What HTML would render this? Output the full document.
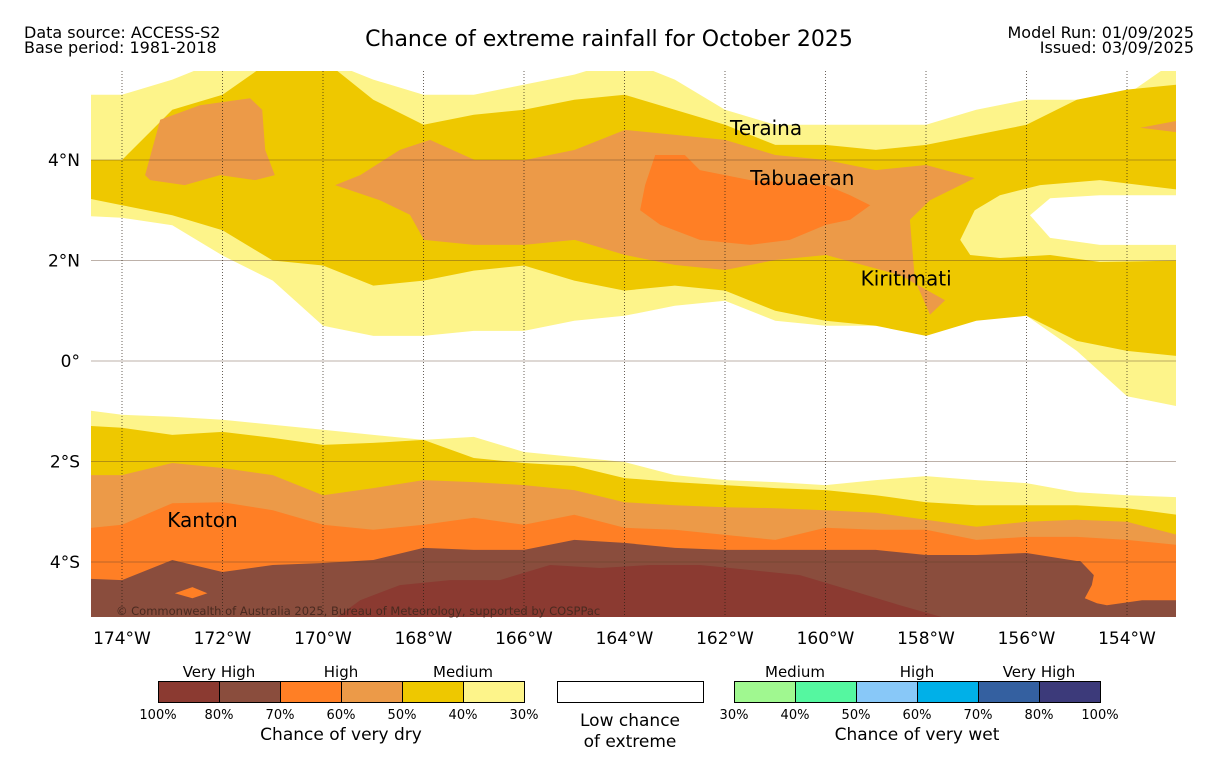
<!DOCTYPE html>
<html><head><meta charset="utf-8"><style>
body{margin:0;background:#fff;width:1219px;height:758px;overflow:hidden;font-family:"DejaVu Sans","Liberation Sans",sans-serif;}
svg{position:absolute;left:0;top:0}
</style></head><body>
<svg id="chart" width="1219" height="758" viewBox="0 0 1219 758">
<defs><clipPath id="mapclip"><rect x="91" y="71" width="1085" height="546"/></clipPath></defs>
<text x="24" y="38" font-size="16">Data source: ACCESS-S2</text>
<text x="24" y="53" font-size="16">Base period: 1981-2018</text>
<text x="609" y="46" font-size="22" text-anchor="middle">Chance of extreme rainfall for October 2025</text>
<text x="1194" y="38" font-size="16" text-anchor="end">Model Run: 01/09/2025</text>
<text x="1194" y="53" font-size="16" text-anchor="end">Issued: 03/09/2025</text>
<g id="map" clip-path="url(#mapclip)"></g>
<g id="overlay"></g>
<g id="axes"></g>
<g id="legend"></g>
</svg>
<script>
// axis geometry
const lonTicks=[-174,-172,-170,-168,-166,-164,-162,-160,-158,-156,-154];
const latTicks=[4,2,0,-2,-4];
const gridLons=[-175,-174,-173,-172,-171,-170,-169,-168,-167,-166,-165,-164,-163,-162,-161,-160,-159,-158,-157,-156,-155,-154,-153];
// north band boundaries (lat)
const n1Top=[5.3,5.3,5.6,6,6,6,5.6,5.3,5.3,5.5,5.7,6,5.6,5.0,4.7,4.7,4.7,4.7,5.0,5.2,5.2,5.3,6];
const n1Bot=[2.9,2.85,2.7,2.1,1.6,0.7,0.5,0.5,0.6,0.6,0.8,0.9,1.1,1.2,0.8,0.7,0.7,0.8,0.9,0.9,0.2,-0.7,-0.9];
const n2Top=[4.0,4.0,5.0,5.3,6,6,5.2,4.7,4.9,5.0,5.2,5.3,5.0,4.7,4.3,4.3,4.2,4.3,4.5,4.7,5.2,5.4,5.5];
const n2Bot=[3.3,3.1,2.9,2.6,2.0,1.9,1.5,1.6,1.8,1.9,1.6,1.4,1.5,1.4,1.0,0.8,0.7,0.5,0.8,0.9,0.4,0.2,0.1];
// south band tops (lat); each band extends to map bottom
const s1Top=[-0.94,-1.07,-1.11,-1.17,-1.27,-1.37,-1.47,-1.57,-1.51,-1.81,-1.91,-2.01,-2.27,-2.37,-2.41,-2.47,-2.37,-2.29,-2.37,-2.43,-2.61,-2.67,-2.71];
const s2Top=[-1.27,-1.33,-1.47,-1.41,-1.53,-1.67,-1.63,-1.57,-1.93,-2.03,-2.09,-2.33,-2.41,-2.47,-2.53,-2.57,-2.67,-2.81,-2.87,-2.87,-2.87,-2.93,-3.06];
const s3Top=[-2.27,-2.27,-2.03,-2.13,-2.27,-2.67,-2.53,-2.37,-2.41,-2.47,-2.57,-2.81,-2.87,-2.91,-2.93,-2.97,-3.02,-3.16,-3.30,-3.20,-3.16,-3.20,-3.46];
const s4Top=[-3.36,-3.26,-2.83,-2.81,-2.97,-3.26,-3.36,-3.26,-3.12,-3.26,-3.06,-3.32,-3.36,-3.46,-3.56,-3.32,-3.36,-3.36,-3.56,-3.50,-3.50,-3.56,-3.66];
const s5Top=[-4.32,-4.36,-3.96,-4.20,-4.06,-4.02,-3.96,-3.72,-3.76,-3.76,-3.56,-3.62,-3.72,-3.76,-3.76,-3.76,-3.76,-3.86,-3.86,-3.82,-3.98,-3.98,-3.98];
// irregular regions [lon,lat]
const holeRing=[[-157.32,2.41],[-157.03,3.0],[-156.53,3.3],[-155.73,3.5],[-154.54,3.6],[-152.9,3.4],[-152.9,2.0],[-154.54,1.97],[-155.53,2.11],[-156.53,2.05],[-157.12,2.11]];
const holeWhite=[[-155.93,2.9],[-155.53,3.24],[-154.54,3.3],[-152.9,3.3],[-152.9,2.31],[-154.54,2.31],[-155.53,2.45]];
const n3Left=[[-173.54,3.7],[-173.24,4.8],[-172.45,5.09],[-171.45,5.23],[-171.21,5.0],[-171.15,4.2],[-170.96,3.7],[-171.35,3.6],[-172.05,3.7],[-172.75,3.5],[-173.44,3.6]];
const n3Main=[[-169.76,3.5],[-169.26,3.7],[-168.47,4.2],[-167.87,4.4],[-166.98,4.0],[-165.98,4.0],[-164.99,4.2],[-163.99,4.6],[-162.99,4.5],[-162.0,4.4],[-161.0,4.1],[-159.99,4.0],[-159.0,3.8],[-158.0,3.9],[-157.03,3.64],[-157.92,3.2],[-158.32,2.81],[-158.22,1.61],[-157.92,0.92],[-157.62,1.21],[-158.52,1.71],[-159.99,2.11],[-161.0,2.01],[-162.0,1.81],[-162.99,1.91],[-163.99,2.11],[-164.99,2.41],[-166.0,2.31],[-167.0,2.31],[-167.99,2.41],[-168.27,2.91],[-168.87,3.2]];
const n3Wedge=[[-153.74,4.64],[-152.9,4.8],[-152.9,4.54]];
const n4=[[-163.39,4.1],[-162.8,4.1],[-162.5,3.8],[-161.5,3.6],[-159.99,3.5],[-159.51,3.3],[-159.11,3.1],[-159.51,2.81],[-159.99,2.71],[-160.71,2.41],[-161.5,2.31],[-162.5,2.41],[-163.29,2.71],[-163.69,3.0],[-163.59,3.5]];
const s6=[[-169.86,-5.2],[-169.26,-4.76],[-168.47,-4.46],[-167.47,-4.36],[-166.48,-4.36],[-165.48,-4.06],[-164.49,-4.12],[-163.49,-4.06],[-162.5,-4.06],[-161.5,-4.16],[-160.51,-4.26],[-159.51,-4.56],[-158.52,-4.86],[-157.32,-5.2]];
const notch=[[-154.93,-3.98],[-152.9,-3.98],[-152.9,-4.76],[-153.7,-4.76],[-154.4,-4.86],[-154.6,-4.82],[-154.84,-4.72],[-154.7,-4.46],[-154.66,-4.26]];
const blob=[[-172.95,-4.62],[-172.6,-4.5],[-172.3,-4.62],[-172.6,-4.72]];
const places=["Teraina","Tabuaeran","Kiritimati","Kanton"];
const placeLon=[-161.9,-161.5,-159.3,-173.1];
const placeLat=[4.5,3.5,1.5,-3.3];

const X=lon=>122+(lon+174)*50.25;
const Y=lat=>361-lat*50.25;
const C={dred:"#8B3A31",brown:"#8A4D3D",dorange:"#FF7F25",orange:"#EC9A48",gold:"#EEC800",lyel:"#FDF48A"};
const NS="http://www.w3.org/2000/svg";
const map=document.getElementById('map');
function poly(pts,fill,name,parent){
  const p=document.createElementNS(NS,'polygon');
  p.setAttribute('points',pts.map(q=>X(q[0]).toFixed(1)+','+Y(q[1]).toFixed(1)).join(' '));
  p.setAttribute('fill',fill);
  
  
  (parent||map).appendChild(p);
}
function band(top,bot,fill,name){
  const pts=gridLons.map((l,i)=>[l,top[i]]);
  for(let i=gridLons.length-1;i>=0;i--)pts.push([gridLons[i],bot?bot[i]:-6]);
  poly(pts,fill,name);
}
band(n1Top,n1Bot,C.lyel,'north-30-40-band');
band(n2Top,n2Bot,C.gold,'north-40-50-band');
poly(holeRing,C.lyel,'east-30-40-ring');
poly(holeWhite,'#ffffff','east-low-chance-area');
poly(n3Left,C.orange,'west-50-60-region');
poly(n3Main,C.orange,'central-50-60-region');
poly(n3Wedge,C.orange,'east-50-60-wedge');
poly(n4,C.dorange,'central-60-70-region');
band(s1Top,null,C.lyel,'south-30-40-band');
band(s2Top,null,C.gold,'south-40-50-band');
band(s3Top,null,C.orange,'south-50-60-band');
band(s4Top,null,C.dorange,'south-60-70-band');
band(s5Top,null,C.brown,'south-70-80-band');
poly(s6,C.dred,'south-80-100-region');
poly(notch,C.dorange,'southeast-60-70-notch');
poly(blob,C.dorange,'southwest-60-70-blob');

const ov=document.getElementById('overlay');
latTicks.forEach(l=>{
  const ln=document.createElementNS(NS,'line');
  ln.setAttribute('x1',91);ln.setAttribute('x2',1176);ln.setAttribute('y1',Y(l));ln.setAttribute('y2',Y(l));
  ln.setAttribute('stroke','rgba(90,60,40,0.4)');ln.setAttribute('stroke-width','1');
  
  
  ov.appendChild(ln);
});
lonTicks.forEach(l=>{
  const ln=document.createElementNS(NS,'line');
  ln.setAttribute('x1',X(l));ln.setAttribute('x2',X(l));ln.setAttribute('y1',71);ln.setAttribute('y2',617);
  ln.setAttribute('stroke','rgba(40,30,20,0.7)');ln.setAttribute('stroke-width','1');ln.setAttribute('stroke-dasharray','1,2');
  
  
  ov.appendChild(ln);
});
places.forEach((p,i)=>{
  const t=document.createElementNS(NS,'text');
  t.setAttribute('x',X(placeLon[i]));t.setAttribute('y',Y(placeLat[i]));
  t.setAttribute('font-size','20');t.textContent=p;
  
  
  ov.appendChild(t);
});
const cp=document.createElementNS(NS,'text');
cp.setAttribute('x',116);cp.setAttribute('y',615);cp.setAttribute('font-size','11.5');cp.setAttribute('fill','#4a2a20');
cp.textContent='© Commonwealth of Australia 2025, Bureau of Meteorology, supported by COSPPac';


ov.appendChild(cp);

const ax=document.getElementById('axes');
lonTicks.forEach(l=>{
  const t=document.createElementNS(NS,'text');
  t.setAttribute('x',X(l));t.setAttribute('y',644);t.setAttribute('font-size','17');t.setAttribute('text-anchor','middle');
  t.textContent=Math.abs(l)+'°W';
  
  
  ax.appendChild(t);
});
latTicks.forEach(l=>{
  const t=document.createElementNS(NS,'text');
  t.setAttribute('x',80);t.setAttribute('y',Y(l)+6);t.setAttribute('font-size','17');t.setAttribute('text-anchor','end');
  t.textContent=l===0?'0°':Math.abs(l)+'°'+(l>0?'N':'S');
  
  
  ax.appendChild(t);
});

const lg=document.getElementById('legend');
const dryColors=[C.dred,C.brown,C.dorange,C.orange,C.gold,C.lyel];
const dryLabels=['100%','80%','70%','60%','50%','40%','30%'];
const wetColors=['#A0F890','#55F7A0','#88C8F8','#00B0E8','#3460A0','#3C3A7A'];
const wetLabels=['30%','40%','50%','60%','70%','80%','100%'];
function txt(x,y,s,size,name){
  const t=document.createElementNS(NS,'text');
  t.setAttribute('x',x);t.setAttribute('y',y);t.setAttribute('font-size',size);t.setAttribute('text-anchor','middle');
  t.textContent=s;
  
  
  lg.appendChild(t);
}
function rect(x,y,w,h,fill,name){
  const r=document.createElementNS(NS,'rect');
  r.setAttribute('x',x);r.setAttribute('y',y);r.setAttribute('width',w);r.setAttribute('height',h);
  r.setAttribute('fill',fill);r.setAttribute('stroke','#000');r.setAttribute('stroke-width','1');
  
  
  lg.appendChild(r);
}
dryColors.forEach((c,i)=>rect(158.5+i*61,681.5,61,21,c,'dry-legend-swatch'));
dryLabels.forEach((s,i)=>txt(158+i*61,719,s,13,'dry-legend-tick'));
txt(219,677,'Very High',15,'dry-very-high-label');txt(341,677,'High',15,'dry-high-label');txt(463,677,'Medium',15,'dry-medium-label');
txt(341,740,'Chance of very dry',17,'dry-legend-title');
rect(557.5,681.5,146,21,'#fff','low-chance-swatch');
txt(630,726,'Low chance',17,'low-chance-label');txt(630,747,'of extreme',17,'low-chance-label-2');
wetColors.forEach((c,i)=>rect(734.5+i*61,681.5,61,21,c,'wet-legend-swatch'));
wetLabels.forEach((s,i)=>txt(734+i*61,719,s,13,'wet-legend-tick'));
txt(795,677,'Medium',15,'wet-medium-label');txt(917,677,'High',15,'wet-high-label');txt(1039,677,'Very High',15,'wet-very-high-label');
txt(917,740,'Chance of very wet',17,'wet-legend-title');
</script>
</body></html>
